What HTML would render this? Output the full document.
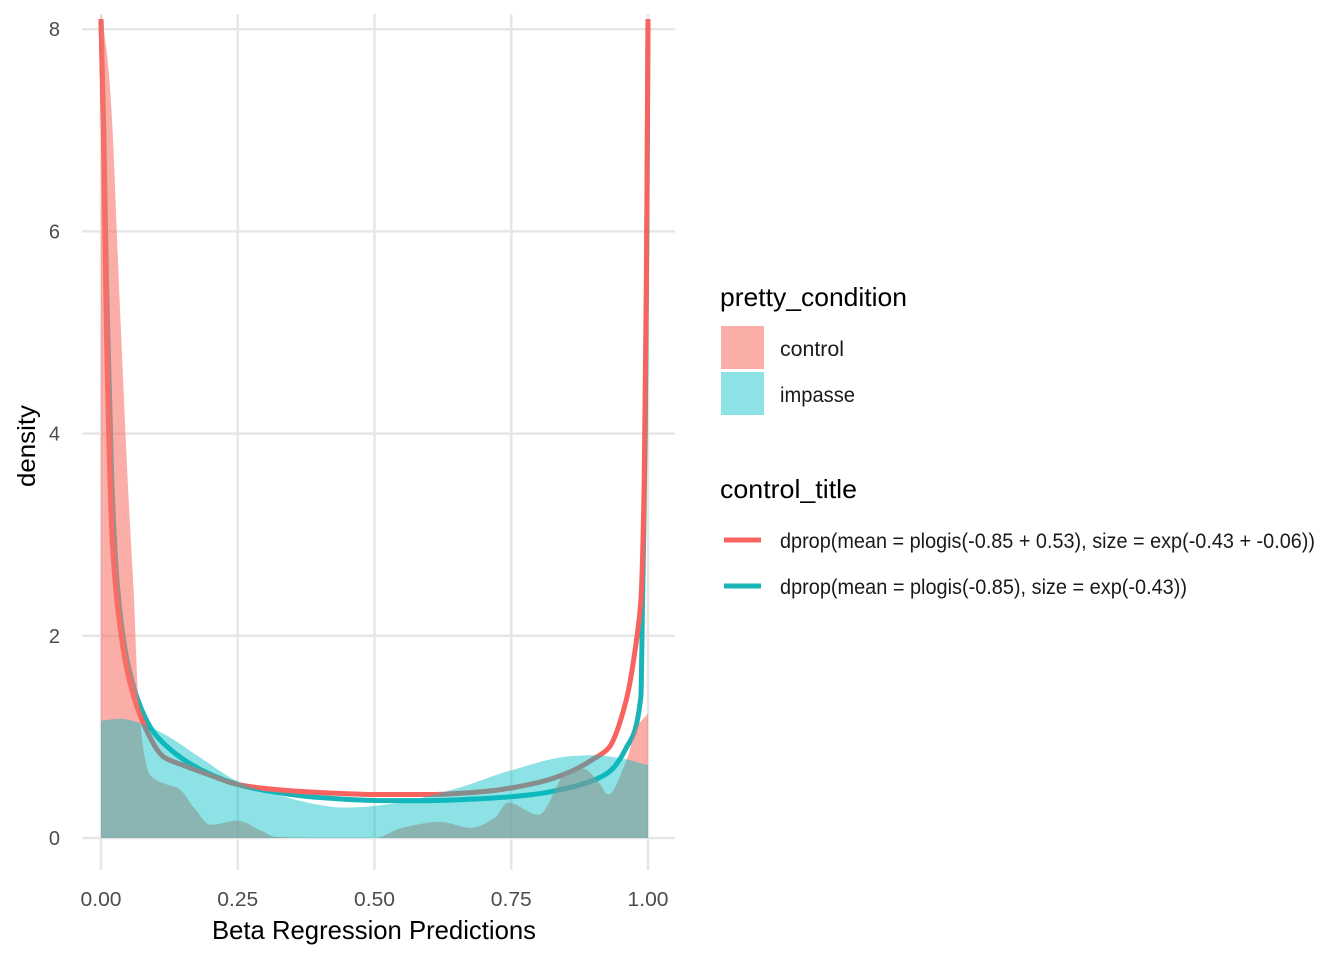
<!DOCTYPE html>
<html><head><meta charset="utf-8"><style>
html,body{margin:0;padding:0;background:#fff;}
svg{display:block;font-family:"Liberation Sans Narrow","Liberation Sans",sans-serif;}
</style></head><body>
<svg id="chart" width="1344" height="960" viewBox="0 0 1344 960">
<g id="grid"></g>
<g id="marks"></g>
<g id="axes"></g>
<text x="374" y="939" text-anchor="middle" font-size="26" fill="#000" textLength="324" lengthAdjust="spacingAndGlyphs">Beta Regression Predictions</text>
<text transform="translate(35,446) rotate(-90)" text-anchor="middle" font-size="25" fill="#000" textLength="82" lengthAdjust="spacingAndGlyphs">density</text>
<g>
<text x="720" y="306" font-size="26" fill="#000" textLength="187" lengthAdjust="spacingAndGlyphs">pretty_condition</text>
<rect x="721" y="326" width="43" height="43" fill="#F8766D" fill-opacity="0.6"/>
<text x="780" y="356" font-size="21" fill="#1a1a1a" textLength="64" lengthAdjust="spacingAndGlyphs">control</text>
<rect x="721" y="372" width="43" height="43" fill="#00BFC4" fill-opacity="0.45"/>
<text x="780" y="402" font-size="21" fill="#1a1a1a" textLength="75" lengthAdjust="spacingAndGlyphs">impasse</text>
</g>
<g>
<text x="720" y="498" font-size="26" fill="#000" textLength="137" lengthAdjust="spacingAndGlyphs">control_title</text>
<line x1="724" y1="540" x2="761" y2="540" stroke="#F8635F" stroke-width="5"/>
<text x="780" y="548" font-size="21" fill="#1a1a1a" textLength="535" lengthAdjust="spacingAndGlyphs">dprop(mean = plogis(-0.85 + 0.53), size = exp(-0.43 + -0.06))</text>
<line x1="724" y1="586" x2="761" y2="586" stroke="#19B4B8" stroke-width="5"/>
<text x="780" y="594" font-size="21" fill="#1a1a1a" textLength="407" lengthAdjust="spacingAndGlyphs">dprop(mean = plogis(-0.85), size = exp(-0.43))</text>
</g>
</svg>
<script>
const xTicks = [0, 0.25, 0.5, 0.75, 1];
const xTickLabels = ["0.00", "0.25", "0.50", "0.75", "1.00"];
const yTicks = [0, 2, 4, 6, 8];
const yTickLabels = ["0", "2", "4", "6", "8"];
const controlDensX = [0,0.01,0.018,0.035,0.05,0.06,0.068,0.08,0.09,0.115,0.142,0.17,0.2,0.25,0.29,0.32,0.4,0.5,0.55,0.62,0.676,0.72,0.744,0.8,0.853,0.88,0.91,0.927,0.96,0.98,1];
const controlDensY = [8.2,7.8,7.3,5.2,3.4,2.4,1.4,0.8,0.62,0.54,0.49,0.3,0.13,0.17,0.08,0.01,0,0,0.1,0.16,0.1,0.2,0.35,0.23,0.66,0.69,0.55,0.43,0.76,1.1,1.23];
const impasseDensX = [0,0.034,0.08,0.115,0.18,0.25,0.318,0.45,0.52,0.656,0.744,0.86,0.9,0.95,1];
const impasseDensY = [1.16,1.18,1.12,1.03,0.8,0.56,0.43,0.3,0.33,0.5,0.66,0.81,0.82,0.79,0.72];
const controlLineX = [0,0.005,0.01,0.02,0.03,0.05,0.081,0.115,0.15,0.2,0.25,0.3,0.4,0.51,0.6,0.7,0.8,0.86,0.9,0.928,0.96,0.98,0.987,0.993,0.997,1];
const controlLineY = [8.1,6.8,5.0,3.0,2.3,1.6,1.09,0.8,0.72,0.62,0.53,0.49,0.45,0.43,0.43,0.46,0.55,0.66,0.78,0.89,1.36,2.0,2.35,3.5,5.5,8.1];
const impasseLineX = [0,0.005,0.01,0.02,0.03,0.05,0.08,0.1,0.15,0.2,0.25,0.3,0.4,0.51,0.6,0.7,0.79,0.85,0.9,0.928,0.96,0.987,0.99,0.995,0.998,1];
const impasseLineY = [8.1,7.0,5.5,3.5,2.5,1.7,1.2,1.02,0.78,0.63,0.53,0.47,0.4,0.37,0.37,0.39,0.43,0.49,0.57,0.65,0.89,1.4,2.35,4.0,6.0,8.1];

const X0 = 101, X1 = 648, Y0 = 838, Yper = 101.1;
const sx = v => X0 + v * (X1 - X0);
const sy = v => Y0 - v * Yper;
const NS = "http://www.w3.org/2000/svg";
const grid = document.getElementById('grid');
const marks = document.getElementById('marks');
const axes = document.getElementById('axes');
function mk(tag, attrs, parent){ const e=document.createElementNS(NS,tag); for(const k in attrs) e.setAttribute(k,attrs[k]); parent.appendChild(e); return e; }

xTicks.forEach((t,i)=>{
  const l = mk('line',{x1:sx(t),x2:sx(t),y1:14,y2:870,stroke:'#e6e6e6','stroke-width':2.5},grid);
  
  
  const tx = mk('text',{x:sx(t),y:906,'text-anchor':'middle','font-size':20,fill:'#4d4d4d',textLength:41,lengthAdjust:'spacingAndGlyphs'},axes);
  tx.textContent = xTickLabels[i];
  
  
});
yTicks.forEach((t,i)=>{
  const l = mk('line',{x1:82,x2:675,y1:sy(t),y2:sy(t),stroke:'#e6e6e6','stroke-width':2.5},grid);
  
  
  const tx = mk('text',{x:60,y:sy(t)+7,'text-anchor':'end','font-size':20,fill:'#4d4d4d'},axes);
  tx.textContent = yTickLabels[i];
  
  
});

// monotone cubic (Fritsch-Carlson) through screen points
function smoothPath(xs, ys){
  const P = xs.map((x,i)=>[sx(x), Math.max(14, sy(ys[i]))]);
  const n = P.length;
  const d = [], m = [];
  for (let i=0;i<n-1;i++) d.push((P[i+1][1]-P[i][1])/(P[i+1][0]-P[i][0]));
  m[0]=d[0]; m[n-1]=d[n-2];
  for (let i=1;i<n-1;i++){
    if (d[i-1]*d[i]<=0) m[i]=0;
    else { const h0=P[i][0]-P[i-1][0], h1=P[i+1][0]-P[i][0];
      m[i]=3*(h0+h1)/((2*h1+h0)/d[i-1]+(h1+2*h0)/d[i]); }
  }
  let s = 'M'+P[0][0].toFixed(2)+','+P[0][1].toFixed(2);
  for (let i=0;i<n-1;i++){
    const h=(P[i+1][0]-P[i][0])/3;
    s += ' C'+(P[i][0]+h).toFixed(2)+','+(P[i][1]+m[i]*h).toFixed(2)+' '+(P[i+1][0]-h).toFixed(2)+','+(P[i+1][1]-m[i+1]*h).toFixed(2)+' '+P[i+1][0].toFixed(2)+','+P[i+1][1].toFixed(2);
  }
  return s;
}
function areaPath(xs, ys){
  return smoothPath(xs, ys)+' L'+sx(xs[xs.length-1])+','+sy(0)+' L'+sx(xs[0])+','+sy(0)+' Z';
}
const tl = mk('path',{d:smoothPath(impasseLineX,impasseLineY),fill:'none',stroke:'#19B4B8','stroke-width':5,'stroke-linejoin':'round'},marks);


const rl = mk('path',{d:smoothPath(controlLineX,controlLineY),fill:'none',stroke:'#F8635F','stroke-width':5,'stroke-linejoin':'round'},marks);


const ra = mk('path',{d:areaPath(controlDensX,controlDensY),fill:'#F8766D','fill-opacity':0.6},marks);


const ta = mk('path',{d:areaPath(impasseDensX,impasseDensY),fill:'#00BFC4','fill-opacity':0.45},marks);


</script>
</body></html>
